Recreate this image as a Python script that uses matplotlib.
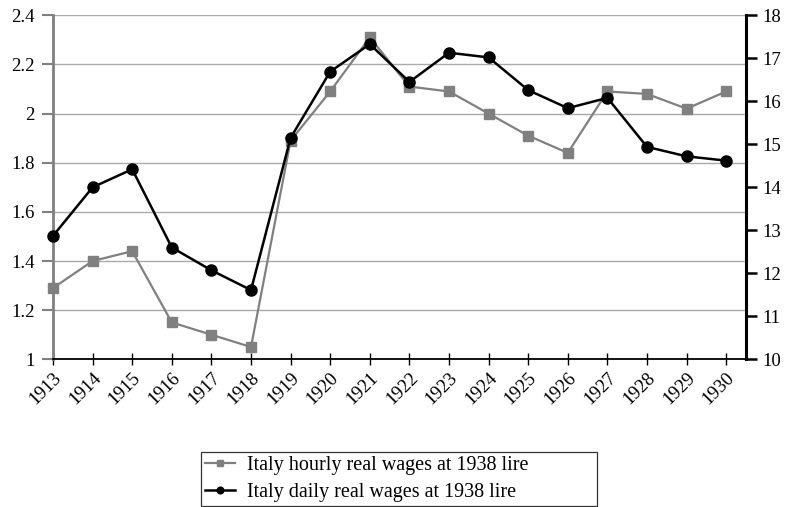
import matplotlib
matplotlib.use("Agg")
import matplotlib.pyplot as plt

years = list(range(1913, 1931))
hourly = [1.29, 1.40, 1.44, 1.15, 1.10, 1.05, 1.89, 2.09, 2.31, 2.11, 2.09, 2.00, 1.91, 1.84, 2.09, 2.08, 2.02, 2.09]
daily = [12.87, 14.00, 14.42, 12.60, 12.07, 11.61, 15.15, 16.69, 17.33, 16.45, 17.13, 17.02, 16.26, 15.84, 16.08, 14.94, 14.72, 14.62]
left_ticks = [1, 1.2, 1.4, 1.6, 1.8, 2, 2.2, 2.4]
left_labels = ["1", "1.2", "1.4", "1.6", "1.8", "2", "2.2", "2.4"]
right_ticks = list(range(10, 19))
label_hourly = "Italy hourly real wages at 1938 lire"
label_daily = "Italy daily real wages at 1938 lire"

plt.rcParams['font.family'] = ['Liberation Serif', 'DejaVu Serif']
fs = 13.5
lfs = 14.5

fig = plt.figure(figsize=(7.9, 5.07), dpi=100)
ax = fig.add_axes([53/790, 1 - 359.3/507, (746 - 53)/790, (359.3 - 15.3)/507])
ax2 = ax.twinx()

gray = "#808080"
l1, = ax.plot(years, hourly, color=gray, lw=1.6, marker="s", ms=7, label=label_hourly, zorder=3, clip_on=False)
l2, = ax2.plot(years, daily, color="black", lw=1.8, marker="o", ms=8, label=label_daily, zorder=3, clip_on=False)

ax.set_xlim(1913, 1930.5)
ax.set_ylim(1, 2.4)
ax2.set_ylim(10, 18)
ax.set_yticks(left_ticks)
ax.set_yticklabels(left_labels, fontsize=fs)
ax2.set_yticks(right_ticks)
ax2.set_yticklabels([str(t) for t in right_ticks], fontsize=fs)
ax.set_xticks(years)
ax.set_xticklabels([str(y) for y in years], rotation=45, ha="right", rotation_mode="anchor", fontsize=fs)

ax.grid(axis="y", color="#aaaaaa", lw=1)
ax.set_axisbelow(True)

for a in (ax, ax2):
    a.spines["top"].set_visible(False)
ax.spines["right"].set_visible(False)
ax.spines["left"].set_color(gray)
ax.spines["left"].set_linewidth(2)
ax.spines["bottom"].set_color("black")
ax.spines["bottom"].set_linewidth(1.3)
ax2.spines["left"].set_visible(False)
ax2.spines["bottom"].set_visible(False)
ax2.spines["right"].set_color("black")
ax2.spines["right"].set_linewidth(2.2)

ax.tick_params(axis="y", direction="out", length=8, width=1.5, color=gray, pad=5)
ax.tick_params(axis="x", direction="inout", length=8, width=1, color="black", pad=3)
ax2.tick_params(axis="y", direction="out", length=8, width=1.8, color="black", pad=4)

leg_x0, leg_w = 201/790, 396/790
leg_y0, leg_h = 1 - 505/507, 52/507
leg = fig.legend(handles=[l1, l2], loc="center", bbox_to_anchor=(leg_x0, leg_y0, leg_w, leg_h),
                 mode="expand", fontsize=lfs, frameon=True, fancybox=False, edgecolor="black",
                 handlelength=1.5, handletextpad=0.6, markerscale=0.6,
                 borderpad=0.2, labelspacing=0.35, borderaxespad=0)
leg.get_frame().set_linewidth(0.9)

fig.savefig("out.png", dpi=100)
